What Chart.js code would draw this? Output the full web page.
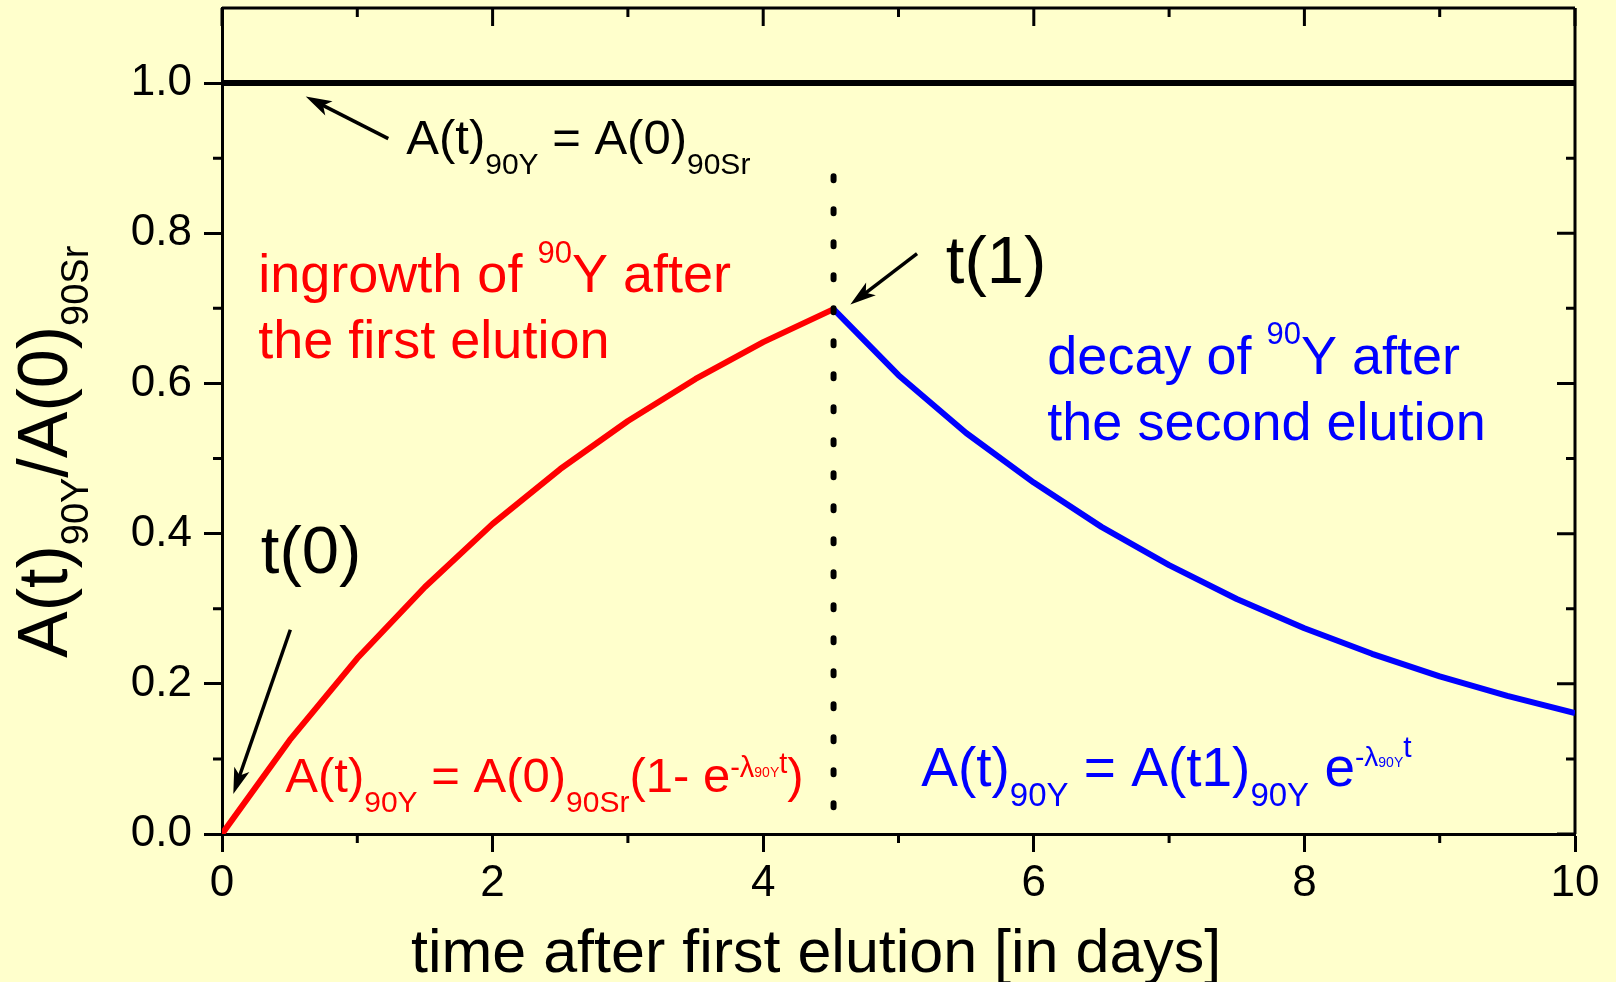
<!DOCTYPE html>
<html lang="en">
<head>
<meta charset="UTF-8">
<title>90Y ingrowth and decay</title>
<script src="https://cdn.jsdelivr.net/npm/chart.js"></script>
<style>
  html, body { margin:0; padding:0; background:#ffffcc; overflow:hidden; }
</style>
</head>
<body>
<canvas id="myChart" width="1616" height="982"></canvas>
<script>
// time after first elution (days) / activity ratio A(t)90Y / A(0)90Sr
const ingrowthDays  = [0, 0.5, 1, 1.5, 2, 2.5, 3, 3.5, 4, 4.52];
const ingrowthRatio = [0, 0.125, 0.234, 0.329, 0.413, 0.486, 0.550, 0.606, 0.655, 0.699];
const decayDays  = [4.52, 5, 5.5, 6, 6.5, 7, 7.5, 8, 8.5, 9, 9.5, 10];
const decayRatio = [0.699, 0.611, 0.534, 0.468, 0.409, 0.358, 0.313, 0.274, 0.240, 0.210, 0.184, 0.161];
const equilibriumDays  = [0, 10];
const equilibriumRatio = [1.0, 1.0];
const elutionDays  = [4.52, 4.52];
const elutionRatio = [0.876, 0.032];

// axes
const xTicks = [0, 2, 4, 6, 8, 10];
const xTickLabels = ['0', '2', '4', '6', '8', '10'];
const xMinor = [1, 3, 5, 7, 9];
const yTicks = [0, 0.2, 0.4, 0.6, 0.8, 1.0];
const yTickLabels = ['0.0', '0.2', '0.4', '0.6', '0.8', '1.0'];
const yMinor = [0.1, 0.3, 0.5, 0.7, 0.9];

const FONT = '"Liberation Sans", Arial, sans-serif';

const toPts = (xs, ys) => xs.map((x, i) => ({x: x, y: ys[i]}));

// text with sub/superscripts, parts = [text, size, baseline shift]
function richText(ctx, x, y, parts, color) {
    ctx.fillStyle = color;
    ctx.textAlign = 'left';
    ctx.textBaseline = 'alphabetic';
    parts.forEach(p => {
        ctx.font = p[1] + 'px ' + FONT;
        ctx.fillText(p[0], x, y + (p[2] || 0));
        x += ctx.measureText(p[0]).width;
    });
}

function arrow(ctx, x1, y1, x2, y2) {
    const a = Math.atan2(y2 - y1, x2 - x1);
    const len = 26, half = 8;
    const c = Math.cos(a), s = Math.sin(a);
    ctx.strokeStyle = '#000';
    ctx.fillStyle = '#000';
    ctx.lineWidth = 3.5;
    ctx.beginPath();
    ctx.moveTo(x1, y1);
    ctx.lineTo(x2 - len * 0.7 * c, y2 - len * 0.7 * s);
    ctx.stroke();
    ctx.beginPath();
    ctx.moveTo(x2, y2);
    ctx.lineTo(x2 - len * c + half * s, y2 - len * s - half * c);
    ctx.lineTo(x2 - len * 0.75 * c, y2 - len * 0.75 * s);
    ctx.lineTo(x2 - len * c - half * s, y2 - len * s + half * c);
    ctx.closePath();
    ctx.fill();
}

// frame, top/right axes and minor ticks
const framePlugin = {
    id: 'frame',
    beforeDatasetsDraw(chart) {
        const {ctx, chartArea: a, scales: {x, y}} = chart;
        ctx.save();
        ctx.strokeStyle = '#000';
        ctx.lineWidth = 3;
        ctx.beginPath();
        ctx.moveTo(a.left, a.top); ctx.lineTo(a.right, a.top);
        ctx.moveTo(a.right, a.top); ctx.lineTo(a.right, a.bottom);
        ctx.stroke();
        ctx.beginPath();
        xTicks.forEach(v => { const px = x.getPixelForValue(v); ctx.moveTo(px, a.top); ctx.lineTo(px, a.top + 18); });
        xMinor.forEach(v => {
            const px = x.getPixelForValue(v);
            ctx.moveTo(px, a.top); ctx.lineTo(px, a.top + 9);
            ctx.moveTo(px, a.bottom); ctx.lineTo(px, a.bottom + 9);
        });
        yTicks.forEach(v => { const py = y.getPixelForValue(v); ctx.moveTo(a.right, py); ctx.lineTo(a.right - 18, py); });
        yMinor.forEach(v => {
            const py = y.getPixelForValue(v);
            ctx.moveTo(a.right, py); ctx.lineTo(a.right - 9, py);
            ctx.moveTo(a.left, py); ctx.lineTo(a.left - 9, py);
        });
        ctx.stroke();
        ctx.restore();
    }
};

// labels, formulas, arrows and axis titles
const notesPlugin = {
    id: 'notes',
    afterDraw(chart) {
        const {ctx, scales: {x, y}} = chart;
        const X = v => x.getPixelForValue(v);
        const Y = v => y.getPixelForValue(v);
        ctx.save();

        arrow(ctx, X(1.229), Y(0.926), X(0.619), Y(0.982));
        arrow(ctx, X(0.505), Y(0.272), X(0.0835), Y(0.0533));
        arrow(ctx, X(5.137), Y(0.773), X(4.644), Y(0.705));

        richText(ctx, X(1.362), Y(0.905), [['A(t)', 49], ['90Y', 30, 20], [' = A(0)', 49], ['90Sr', 30, 20]], '#000');

        richText(ctx, X(0.268), Y(0.722), [['ingrowth of ', 54], ['90', 31, -29], ['Y after', 54]], '#ff0000');
        richText(ctx, X(0.268), Y(0.634), [['the first elution', 54]], '#ff0000');

        richText(ctx, X(6.10), Y(0.613), [['decay of ', 54], ['90', 31, -30], ['Y after', 54]], '#0000ff');
        richText(ctx, X(6.10), Y(0.525), [['the second elution', 54]], '#0000ff');

        richText(ctx, X(0.287), Y(0.348), [['t(0)', 67]], '#000');
        richText(ctx, X(5.35), Y(0.734), [['t(1)', 67]], '#000');

        richText(ctx, X(0.468), Y(0.0564), [['A(t)', 49], ['90Y', 30, 20], [' = A(0)', 49], ['90Sr', 30, 20],
            ['(1- e', 49], ['-\u03bb', 29, -15], ['90Y', 14, -15], ['t', 29, -19], [')', 49]], '#ff0000');

        richText(ctx, X(5.168), Y(0.064), [['A(t)', 55], ['90Y', 33, 20], [' = A(t1)', 55], ['90Y', 33, 20],
            [' e', 55], ['-\u03bb', 28, -20], ['90Y', 14, -19], ['t', 30, -29]], '#0000ff');

        // axis titles
        richText(ctx, 411, 971.7, [['time after first elution [in days]', 61]], '#000');
        ctx.translate(67, 658);
        ctx.rotate(-Math.PI / 2);
        richText(ctx, 0, 0, [['A(t)', 70], ['90Y', 38, 21], ['/A(0)', 70], ['90Sr', 38, 21]], '#000');

        ctx.restore();
    }
};

const data = {
    datasets: [
        {
            label: 'second elution',
            data: toPts(elutionDays, elutionRatio),
            borderColor: '#000',
            borderWidth: 6,
            borderDash: [4, 29],
            borderCapStyle: 'round',
            pointRadius: 0
        },
        {
            label: 'decay',
            data: toPts(decayDays, decayRatio),
            borderColor: '#0000ff',
            borderWidth: 6,
            pointRadius: 0
        },
        {
            label: 'ingrowth',
            data: toPts(ingrowthDays, ingrowthRatio),
            borderColor: '#ff0000',
            borderWidth: 6,
            pointRadius: 0
        },
        {
            label: 'equilibrium',
            data: toPts(equilibriumDays, equilibriumRatio),
            borderColor: '#000',
            borderWidth: 6,
            pointRadius: 0
        }
    ]
};

const options = {
    responsive: false,
    animation: false,
    devicePixelRatio: 1,
    layout: { padding: { left: 0, right: 41, top: 8, bottom: 0 } },
    plugins: { legend: { display: false }, tooltip: { enabled: false } },
    elements: { line: { tension: 0, borderJoinStyle: 'round' } },
    scales: {
        x: {
            type: 'linear',
            min: 0, max: 10,
            afterBuildTicks: s => { s.ticks = xTicks.map(v => ({value: v})); },
            afterFit: s => { s.height = 148; s.paddingLeft = 0; s.paddingRight = 0; },
            ticks: {
                color: '#000',
                font: { family: FONT, size: 44 },
                padding: 5,
                maxRotation: 0,
                callback: (v, i) => xTickLabels[i]
            },
            grid: { drawOnChartArea: false, drawTicks: true, tickLength: 18, tickWidth: 3, tickColor: '#000' },
            border: { display: true, color: '#000', width: 3 }
        },
        y: {
            type: 'linear',
            min: 0, max: 1.1,
            afterBuildTicks: s => { s.ticks = yTicks.map(v => ({value: v})); },
            afterFit: s => { s.width = 222; s.paddingTop = 0; s.paddingBottom = 0; },
            ticks: {
                color: '#000',
                font: { family: FONT, size: 44 },
                padding: 12,
                callback: (v, i) => yTickLabels[i]
            },
            grid: { drawOnChartArea: false, drawTicks: true, tickLength: 18, tickWidth: 3, tickColor: '#000' },
            border: { display: true, color: '#000', width: 3 }
        }
    }
};

const ctx = document.querySelector('#myChart').getContext('2d');
const myChart = new Chart(ctx, {
    type: 'line',
    data: data,
    options: options,
    plugins: [framePlugin, notesPlugin]
});
</script>
</body>
</html>
